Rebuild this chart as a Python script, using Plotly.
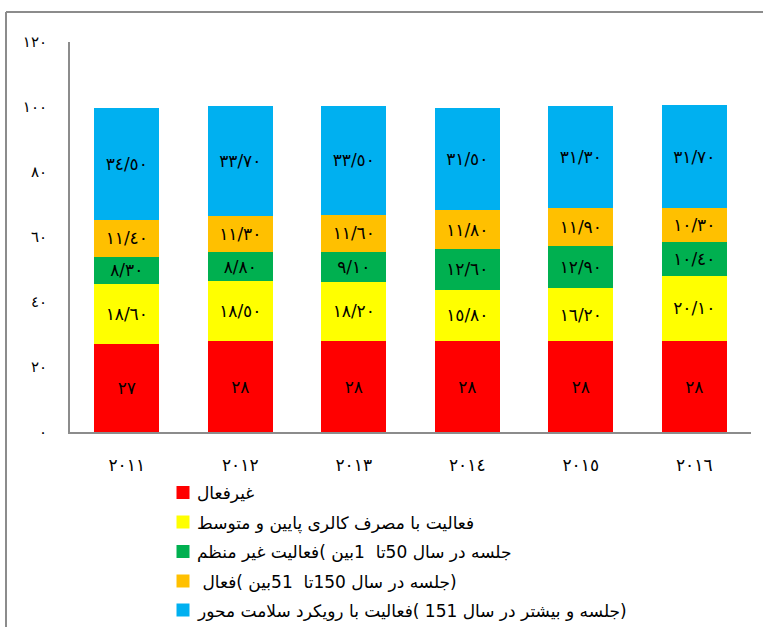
import plotly.graph_objects as go

years = ["2011", "2012", "2013", "2014", "2015", "2016"]
year_labels = ["٢٠١١", "٢٠١٢", "٢٠١٣", "٢٠١٤", "٢٠١٥", "٢٠١٦"]

series_names = [
    "غیرفعال",
    "فعالیت با مصرف کالری پایین و متوسط",
    "جلسه در سال 50تا  1بین )فعالیت غیر منظم",
    "(جلسه در سال 150تا  51بین )فعال ",
    "(جلسه و بیشتر در سال 151 )فعالیت با رویکرد سلامت محور",
]
inactive = [27, 28, 28, 28, 28, 28]
low_moderate = [18.6, 18.5, 18.2, 15.8, 16.2, 20.1]
irregular = [8.3, 8.8, 9.1, 12.6, 12.9, 10.4]
active = [11.4, 11.3, 11.6, 11.8, 11.9, 10.3]
health = [34.5, 33.7, 33.5, 31.5, 31.3, 31.7]
series_values = [inactive, low_moderate, irregular, active, health]
colors = ["#FF0000", "#FFFF00", "#00B050", "#FFC000", "#00B0F0"]

y_ticks = [0, 20, 40, 60, 80, 100, 120]
y_tick_labels = ["٠", "٢٠", "٤٠", "٦٠", "٨٠", "١٠٠", "١٢٠"]

AR = str.maketrans("0123456789.", "٠١٢٣٤٥٦٧٨٩/")
RLM = "\u200f"

# plot area in pixels
L, R, T, B = 70, 751, 42, 432
W, H = R - L, B - T


def px(x):
    return (x - L) / W


def py(y):
    return (B - y) / H


def fa(v, integer=False):
    s = f"{v:.0f}" if integer else f"{v:.2f}"
    return s.translate(AR)


fig = go.Figure()
for i, (name, vals, col) in enumerate(zip(series_names, series_values, colors)):
    fig.add_trace(go.Bar(
        x=years, y=vals, name=name, marker_color=col,
        marker_line_width=0,
        text=[fa(v, integer=(i == 0)) for v in vals],
        textposition="inside", insidetextanchor="middle", textangle=0,
        constraintext="none",
        textfont=dict(family="DejaVu Sans", size=17, color="black"),
        showlegend=False,
    ))

# legend drawn as squares + RTL text
shapes = []
annotations = []
row_centers = [492.5, 522, 551.5, 581, 610]
for name, col, cy in zip(series_names, colors, row_centers):
    shapes.append(dict(type="rect", xref="paper", yref="paper",
                       x0=px(176.5), x1=px(189.5), y0=py(cy + 6.5), y1=py(cy - 6.5),
                       fillcolor=col, line=dict(width=0)))
    annotations.append(dict(xref="paper", yref="paper", x=px(195), y=py(cy + 1),
                            xanchor="left", yanchor="middle", showarrow=False,
                            text=RLM + name + RLM,
                            font=dict(family="DejaVu Sans", size=17, color="black")))

# outer frame lines
shapes.append(dict(type="line", xref="paper", yref="paper",
                   x0=px(6), x1=px(763), y0=py(12), y1=py(12),
                   line=dict(color="#8C8C8C", width=2)))
shapes.append(dict(type="line", xref="paper", yref="paper",
                   x0=px(6), x1=px(6), y0=py(12), y1=py(627),
                   line=dict(color="#8C8C8C", width=2)))

fig.update_layout(
    width=763, height=627,
    margin=dict(l=L, r=763 - R, t=T, b=627 - B, autoexpand=False),
    barmode="stack", bargap=0.43,
    plot_bgcolor="white", paper_bgcolor="white",
    showlegend=False,
    xaxis=dict(
        tickvals=years, ticktext=year_labels, showline=True,
        linecolor="#8C8C8C", linewidth=2, ticks="",
        tickfont=dict(family="DejaVu Sans", size=17, color="black"),
        ticklabelstandoff=17, automargin=False,
    ),
    yaxis=dict(
        range=[0, 120], tickvals=y_ticks, ticktext=y_tick_labels,
        showline=True, linecolor="#8C8C8C", linewidth=2, showgrid=False,
        zeroline=False, ticks="",
        tickfont=dict(family="DejaVu Sans", size=15, color="black"),
        ticklabelstandoff=18, automargin=False,
    ),
    shapes=shapes,
    annotations=annotations,
)

fig.write_html("out.html",
               config={"displayModeBar": False},
               post_script="document.body.style.margin='0';document.body.style.overflow='hidden';")
